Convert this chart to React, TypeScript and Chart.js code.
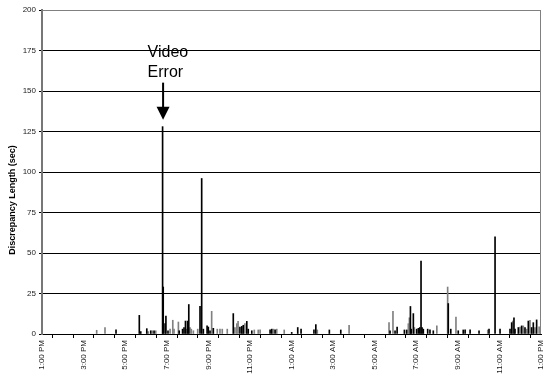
import React, { useEffect, useRef } from 'react';
import { Chart, registerables } from 'chart.js';

Chart.register(...registerables);

// Hours after 1:00 PM (0 = 1:00 PM, 24 = 1:00 PM next day)
const hourLabels = [
  '1:00 PM', '3:00 PM', '5:00 PM', '7:00 PM', '9:00 PM', '11:00 PM',
  '1:00 AM', '3:00 AM', '5:00 AM', '7:00 AM', '9:00 AM', '11:00 AM', '1:00 PM',
];

const darkSpikeHours = [
  3.56, 4.68, 4.75, 5.04, 5.23, 5.39, 5.8, 5.83, 5.92, 5.96, 6.06, 6.6, 6.76, 6.83, 6.9, 7.0, 7.06,
  7.6, 7.68, 7.76, 7.94, 8.0, 8.08, 8.24, 9.2, 9.52, 9.61, 9.68, 9.85, 9.92, 10.09, 10.97, 11.05,
  11.21, 12.01, 12.3, 12.46, 13.08, 13.17, 13.82, 14.37, 16.74, 16.98, 17.08, 17.43, 17.54, 17.72,
  17.76, 17.86, 18.02, 18.1, 18.17, 18.23, 18.28, 18.34, 18.55, 18.66, 18.82, 19.54, 19.66, 20.02,
  20.26, 20.35, 20.59, 21.02, 21.5, 21.79, 22.03, 22.51, 22.59, 22.7, 22.75, 22.91, 23.07, 23.23,
  23.39, 23.55, 23.63, 23.79,
];
const darkSpikeSecs = [
  2.5, 11.5, 1.5, 3.3, 2, 2, 128, 29, 6.4, 11, 2, 2, 3, 4, 8, 8, 18.2,
  17.1, 96, 3, 5, 4.3, 2, 3.5, 12.6, 4.3, 4.7, 5.4, 7.8, 3, 2, 2.5, 3,
  2.5, 1, 4, 3, 2.5, 5.8, 2.5, 2.5, 2, 2, 4.3, 2.5, 2.5, 17,
  3, 12.6, 3, 3.5, 4, 45, 4, 3, 3, 2.5, 2, 18.8, 3, 2,
  2.5, 2.5, 2.5, 2, 3, 60, 3, 3, 7, 10, 3, 4, 5, 4,
  8, 4, 7, 8.7,
];

const greySpikeHours = [
  2.63, 3.03, 5.11, 5.31, 5.47, 6.16, 6.29, 6.35, 6.56, 6.95, 7.12, 7.18, 7.28, 7.49, 8.16, 8.43,
  8.56, 8.67, 8.91, 9.28, 9.37, 9.43, 9.76, 10.21, 10.4, 10.49, 11.13, 11.29, 11.65, 13.24, 14.77,
  16.69, 16.88, 17.62, 17.67, 17.91, 18.99, 19.51, 19.91, 21.44, 22.64, 22.99, 23.15, 23.31, 23.47,
  23.71, 23.91, 23.98,
];
const greySpikeSecs = [
  2.3, 4, 1.5, 2, 2, 3, 8.5, 3, 7.4, 3, 4, 3, 2, 3, 14, 3,
  3, 3, 3, 4, 6.4, 7.8, 6.4, 2.5, 2.5, 2.5, 3, 3, 2.5, 2.5, 5.4,
  7, 14, 6.4, 10, 4, 5, 29, 10.5, 2.5, 8, 4.3, 5, 3, 8.5,
  4, 4.5, 3,
];

const annotationHour = 5.8;
const annotationValue = 128;
const annotationLines = ['Video', 'Error'];
const yTitle = 'Discrepancy Length (sec)';

const FONT = "'Liberation Sans', Arial, sans-serif";

export default function App() {
  const canvasRef = useRef<HTMLCanvasElement | null>(null);

  useEffect(() => {
    const canvas = canvasRef.current;
    if (!canvas) return;

    const overlay = {
      id: 'overlay',
      afterDraw(chart: any) {
        const { ctx, chartArea, scales } = chart;
        ctx.save();
        // plot-area border (top and right)
        ctx.strokeStyle = '#808080';
        ctx.lineWidth = 1;
        ctx.beginPath();
        ctx.moveTo(chartArea.left, chartArea.top + 0.5);
        ctx.lineTo(chartArea.right - 0.5, chartArea.top + 0.5);
        ctx.lineTo(chartArea.right - 0.5, chartArea.bottom);
        ctx.stroke();

        // annotation
        const x = scales.x.getPixelForValue(annotationHour);
        const yTop = scales.y.getPixelForValue(annotationValue);
        ctx.fillStyle = '#000';
        ctx.strokeStyle = '#000';
        ctx.lineWidth = 2;
        ctx.beginPath();
        ctx.moveTo(x + 0.5, yTop - 44);
        ctx.lineTo(x + 0.5, yTop - 19);
        ctx.stroke();
        ctx.beginPath();
        ctx.moveTo(x - 6, yTop - 20);
        ctx.lineTo(x + 7, yTop - 20);
        ctx.lineTo(x + 0.5, yTop - 7);
        ctx.closePath();
        ctx.fill();
        ctx.font = `16px ${FONT}`;
        ctx.textAlign = 'left';
        ctx.textBaseline = 'alphabetic';
        ctx.fillText(annotationLines[0], x - 15, yTop - 70);
        ctx.fillText(annotationLines[1], x - 15, yTop - 50);

        // y title
        ctx.translate(13, 200);
        ctx.rotate(-Math.PI / 2);
        ctx.font = `bold 9px ${FONT}`;
        ctx.textAlign = 'center';
        ctx.textBaseline = 'middle';
        ctx.fillText(yTitle, 0, 0);
        ctx.restore();
      },
    };

    const chart = new Chart(canvas, {
      type: 'bar',
      data: {
        datasets: [
          {
            label: 'dark',
            data: darkSpikeHours.map((h, i) => ({ x: h, y: darkSpikeSecs[i] })),
            backgroundColor: '#000000',
            barThickness: 1,
            grouped: false,
          } as any,
          {
            label: 'grey',
            data: greySpikeHours.map((h, i) => ({ x: h, y: greySpikeSecs[i] })),
            backgroundColor: '#808080',
            barThickness: 1,
            grouped: false,
          } as any,
        ],
      },
      options: {
        responsive: false,
        animation: false,
        layout: { padding: { left: 0, right: 3, top: 10, bottom: 0 } },
        plugins: { legend: { display: false }, tooltip: { enabled: false } },
        scales: {
          x: {
            type: 'linear',
            min: 0,
            max: 24,
            offset: false,
            ticks: {
              stepSize: 1,
              autoSkip: false,
              maxRotation: 90,
              minRotation: 90,
              padding: 2,
              color: '#222',
              font: { family: FONT, size: 8 },
              callback: (v: any) => (Number(v) % 2 === 0 ? hourLabels[Number(v) / 2] : ''),
            },
            grid: { drawOnChartArea: false, drawTicks: true, tickLength: 4, tickColor: '#000' },
            border: { color: '#000', width: 1 },
            afterFit: (s: any) => {
              s.height = 43;
              s.paddingLeft = 0;
              s.paddingRight = 0;
            },
          },
          y: {
            min: 0,
            max: 200,
            ticks: {
              stepSize: 25,
              padding: 3,
              color: '#222',
              font: { family: FONT, size: 8 },
            },
            grid: {
              color: (c: any) => (c.tick && c.tick.value === 200 ? '#808080' : '#000'),
              tickLength: 3,
              tickColor: '#000',
            },
            border: { color: '#777', width: 2 },
            afterFit: (s: any) => {
              s.width = 42;
              s.paddingTop = 0;
              s.paddingBottom = 0;
            },
          },
        },
      } as any,
      plugins: [overlay],
    });

    return () => chart.destroy();
  }, []);

  return (
    <div style={{ position: 'fixed', left: 0, top: 0, width: 544, height: 377, background: '#fff' }}>
      <canvas ref={canvasRef} width={544} height={377} />
    </div>
  );
}
